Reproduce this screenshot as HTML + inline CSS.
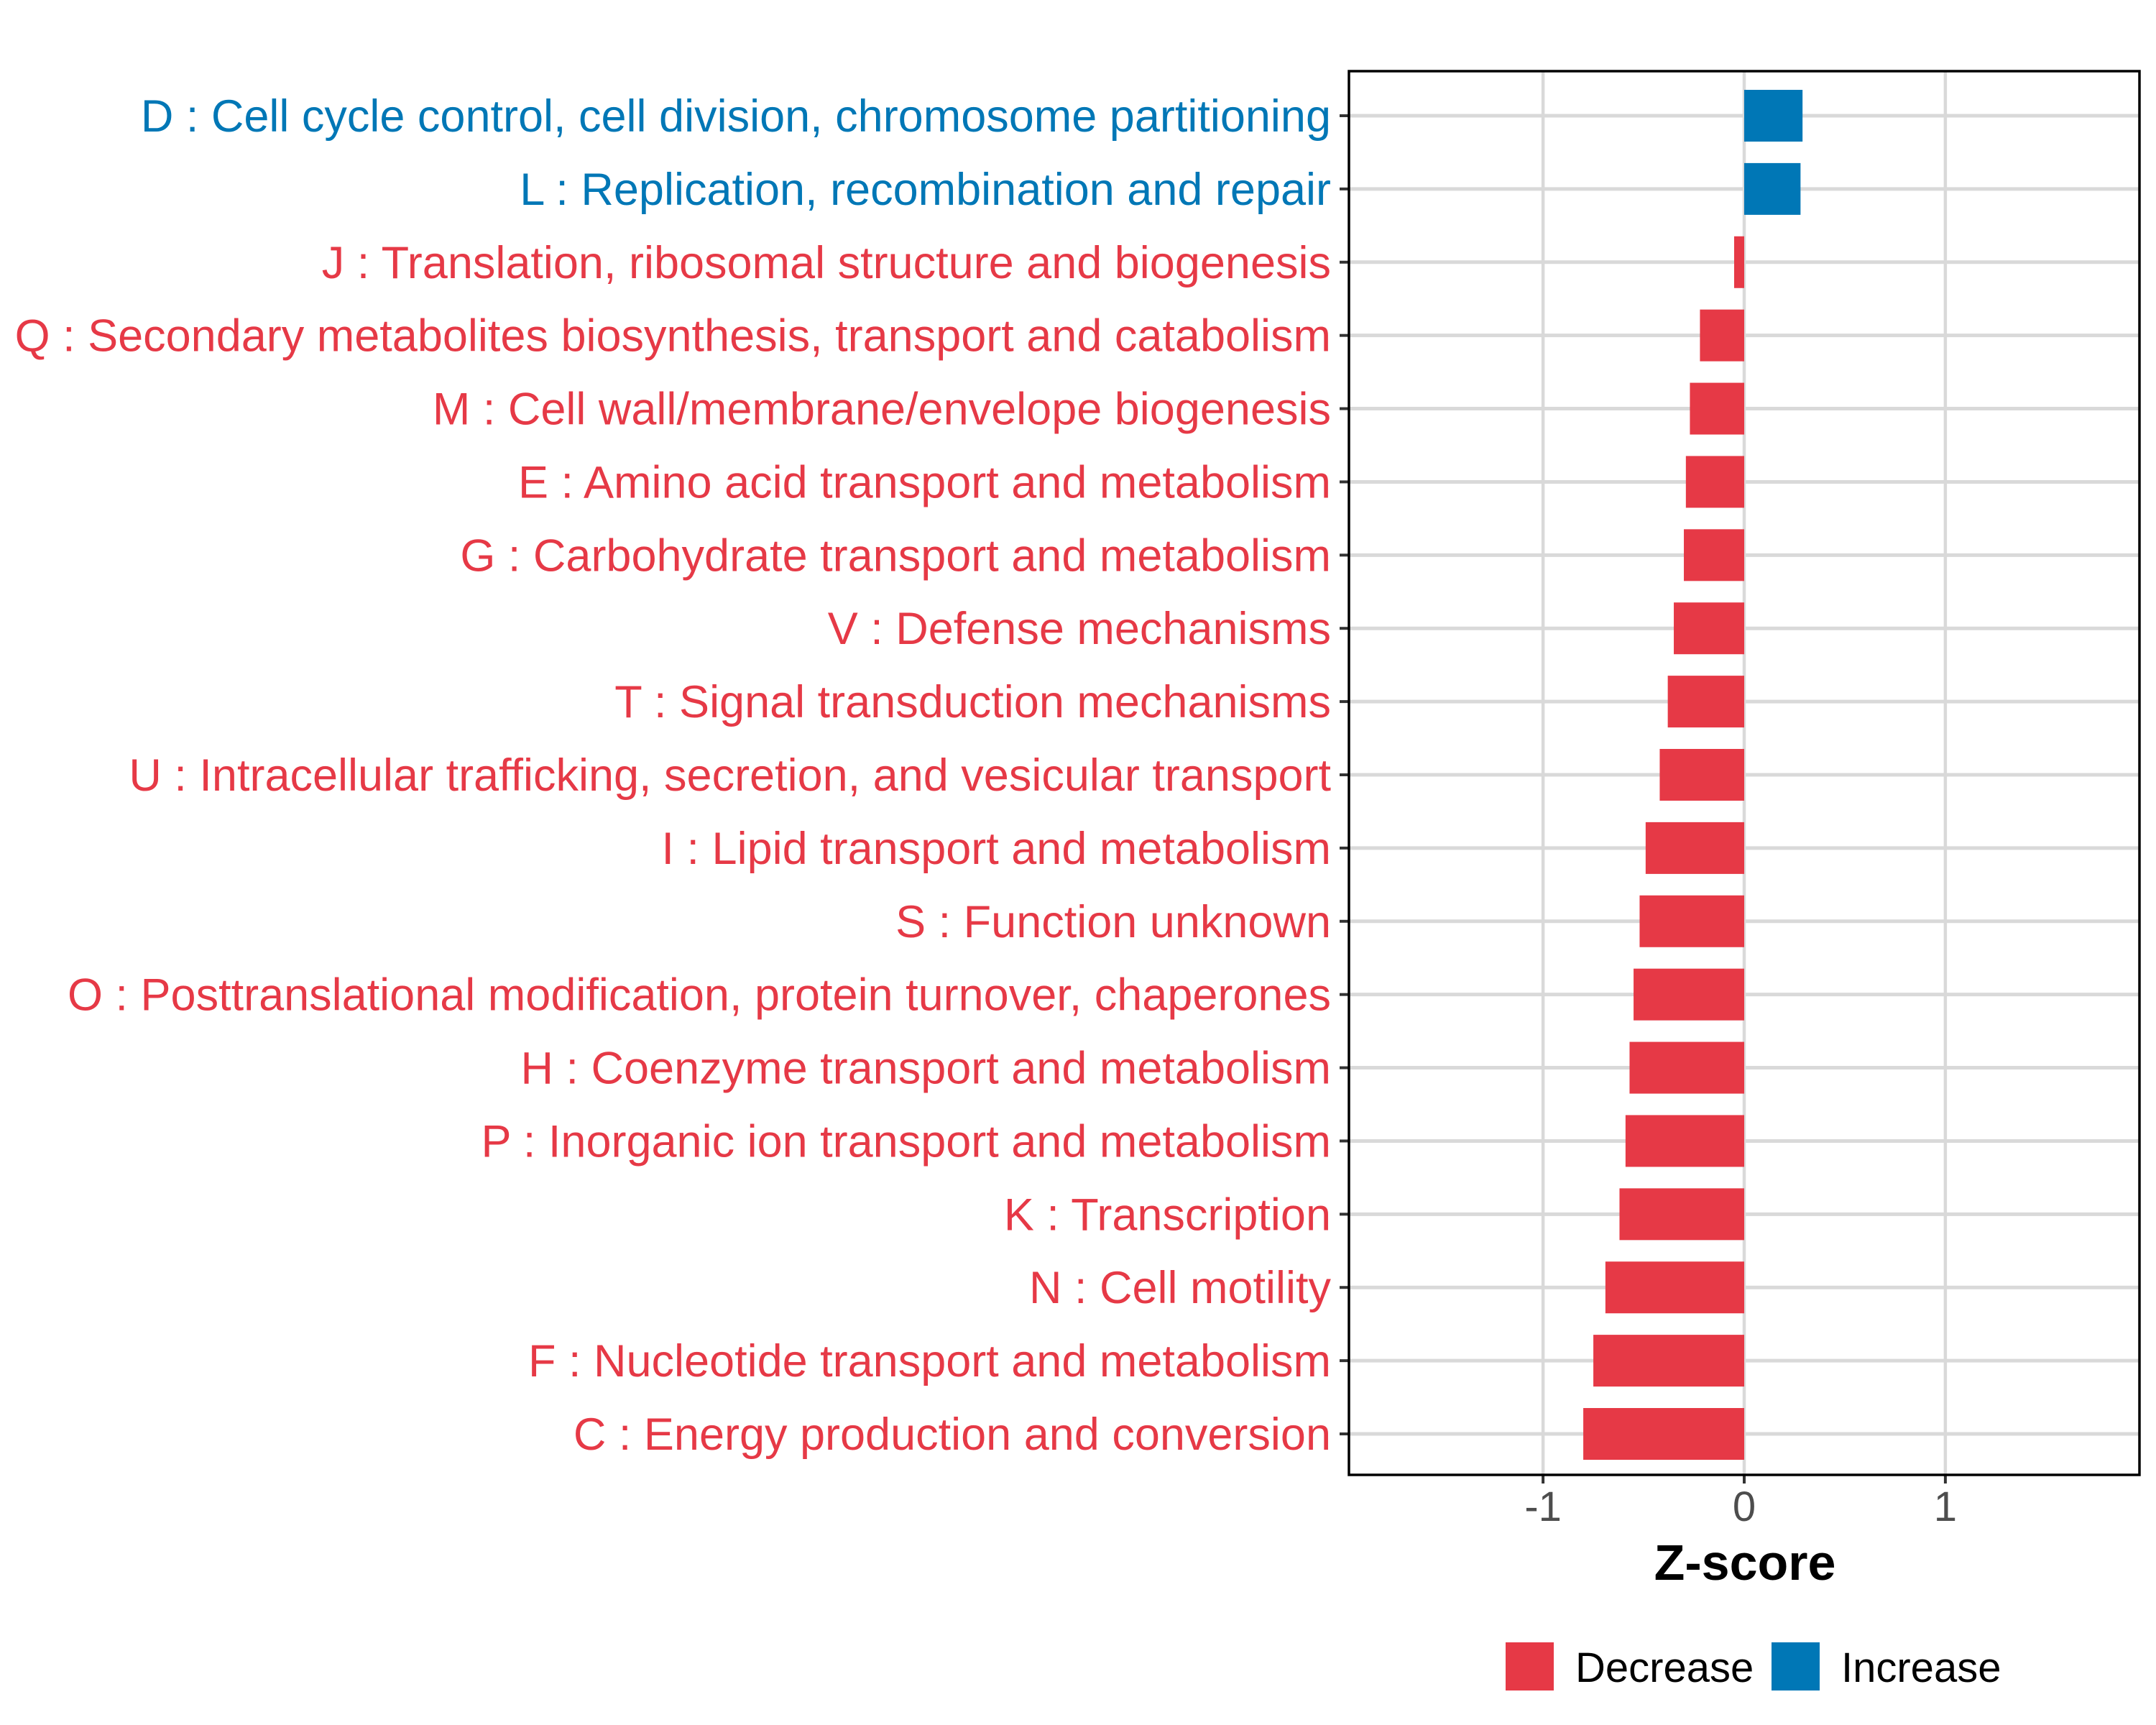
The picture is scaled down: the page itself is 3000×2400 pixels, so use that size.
<!DOCTYPE html>
<html><head><meta charset="utf-8"><style>html,body{margin:0;padding:0;background:#fff}svg{display:block}</style></head>
<body>
<svg id="chart" width="3000" height="2400" xmlns="http://www.w3.org/2000/svg" font-family="'Liberation Sans', Arial, sans-serif">
<rect width="3000" height="2400" fill="#fff"/>
<g id="grid"></g>
<g id="bars"></g>
<g id="labels"></g>
<g id="xticks"></g>
<rect x="1877" y="99" width="1100" height="1953" fill="none" stroke="#000" stroke-width="3.5"/>
<text x="2428" y="2198" font-size="70" font-weight="bold" text-anchor="middle" fill="#000">Z-score</text>
<g>
<rect x="2095" y="2285" width="67" height="67" fill="#E63946"/>
<text x="2192" y="2340" font-size="58" fill="#000">Decrease</text>
<rect x="2465" y="2285" width="67" height="67" fill="#0077B6"/>
<text x="2562" y="2340" font-size="58" fill="#000">Increase</text>
</g>
</svg>
<script>
const categories = ["D : Cell cycle control, cell division, chromosome partitioning","L : Replication, recombination and repair","J : Translation, ribosomal structure and biogenesis","Q : Secondary metabolites biosynthesis, transport and catabolism","M : Cell wall/membrane/envelope biogenesis","E : Amino acid transport and metabolism","G : Carbohydrate transport and metabolism","V : Defense mechanisms","T : Signal transduction mechanisms","U : Intracellular trafficking, secretion, and vesicular transport","I : Lipid transport and metabolism","S : Function unknown","O : Posttranslational modification, protein turnover, chaperones","H : Coenzyme transport and metabolism","P : Inorganic ion transport and metabolism","K : Transcription","N : Cell motility","F : Nucleotide transport and metabolism","C : Energy production and conversion"];
const zscores = [0.29,0.28,-0.05,-0.22,-0.27,-0.29,-0.30,-0.35,-0.38,-0.42,-0.49,-0.52,-0.55,-0.57,-0.59,-0.62,-0.69,-0.75,-0.80];
const xTicks = [-1,0,1];
const xTickLabels = ["-1","0","1"];
const RED="#E63946", BLUE="#0077B6";
const NS="http://www.w3.org/2000/svg";
const X0=1877, X1=2977, xmin=-1.965, xmax=1.965;
const xs = v => X0 + (v-xmin)/(xmax-xmin)*(X1-X0);
const rowTop=161, rowStep=(1995-161)/(categories.length-1);
const ys = i => rowTop + i*rowStep;
function mk(tag, attrs, parent){const e=document.createElementNS(NS,tag);for(const k in attrs)e.setAttribute(k,attrs[k]);parent.appendChild(e);return e;}
const grid=document.getElementById('grid'), bars=document.getElementById('bars'), labels=document.getElementById('labels'), xt=document.getElementById('xticks');
xTicks.forEach((t,i)=>{
  const l=mk('line',{x1:xs(t),x2:xs(t),y1:99,y2:2052,stroke:'#D9D9D9','stroke-width':4.5},grid);
  
  
  const tk=mk('line',{x1:xs(t),x2:xs(t),y1:2052,y2:2064,stroke:'#333','stroke-width':4},xt);
  
  
  const tl=mk('text',{x:xs(t),y:2116,'font-size':58,'text-anchor':'middle',fill:'#4D4D4D'},xt);
  tl.textContent=xTickLabels[i];
  
  
});
categories.forEach((c,i)=>{
  const y=ys(i), v=zscores[i], col=v>=0?BLUE:RED;
  const g=mk('line',{x1:X0,x2:X1,y1:y,y2:y,stroke:'#D9D9D9','stroke-width':5},grid);
  
  
  const x=Math.min(xs(0),xs(v)), w=Math.abs(xs(v)-xs(0));
  const b=mk('rect',{x:x,y:y-36,width:w,height:72,fill:col},bars);
  
  
  const tk=mk('line',{x1:1864,x2:X0,y1:y,y2:y,stroke:'#333','stroke-width':4},labels);
  
  
  const t=mk('text',{x:1852,y:y+22,'font-size':63,'text-anchor':'end',fill:col},labels);
  t.textContent=c;
  
  
});
</script>
</body></html>
